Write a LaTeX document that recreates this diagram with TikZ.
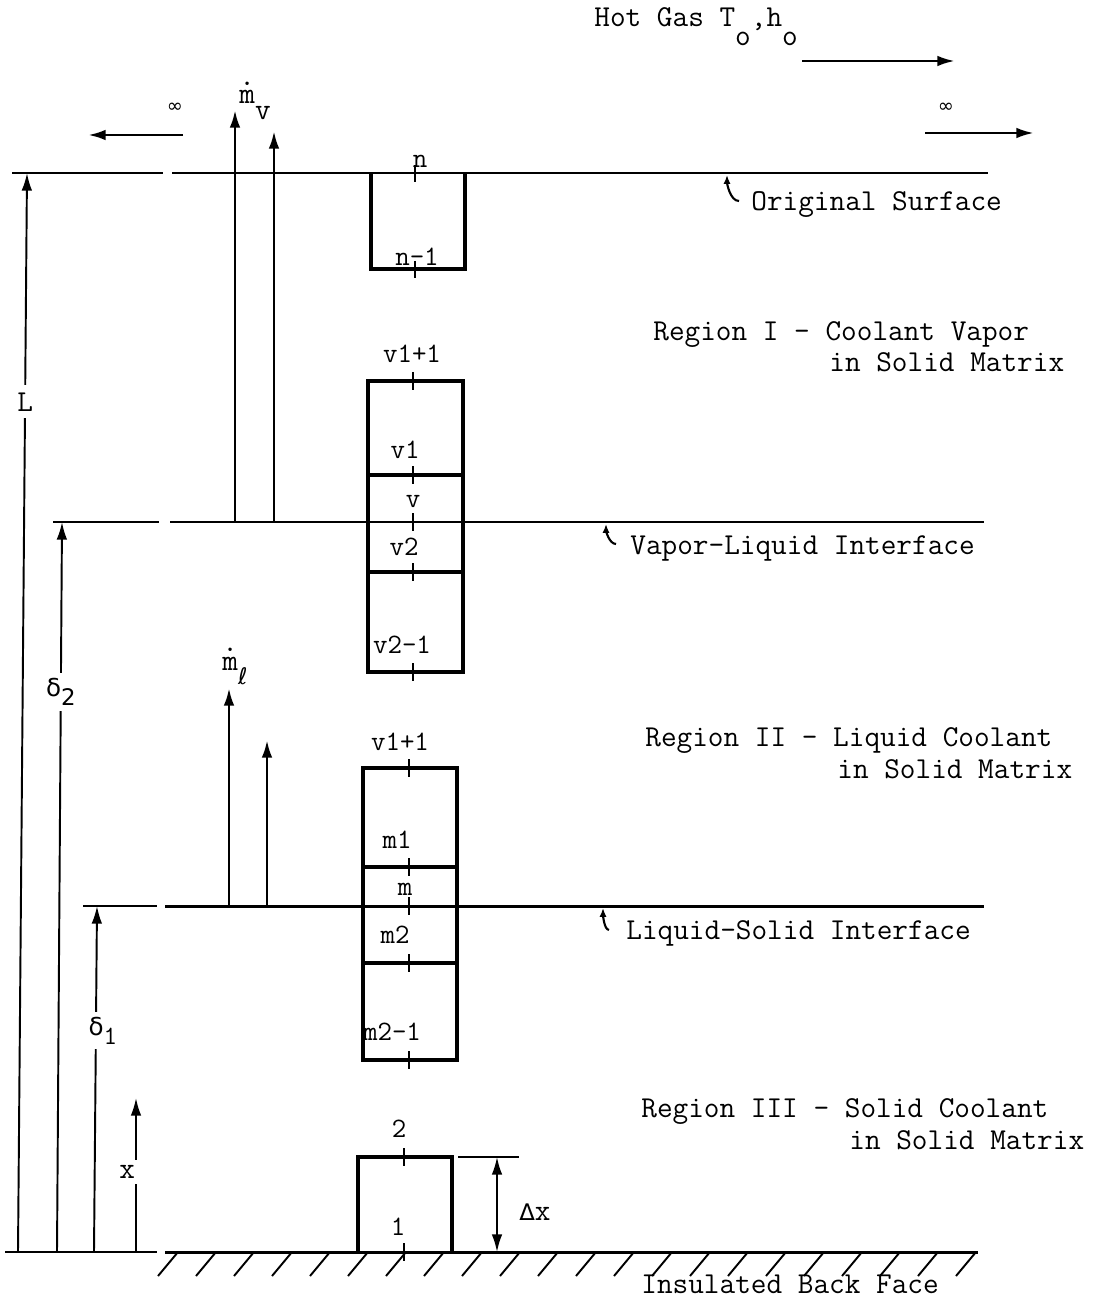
\documentclass[tikz,border=0pt]{standalone}
\usepackage{fontspec}
\newfontfamily\symfont{DejaVu Sans}
\usetikzlibrary{arrows.meta,positioning,calc}
\newcommand{\mdot}{\ooalign{m\cr\hidewidth\raisebox{0.62em}{.}\hidewidth\cr}}

\begin{document}
\begin{tikzpicture}[
    x=0.02cm, y=-0.02cm,
    >={Latex[length=10pt,width=6pt]},
    font=\ttfamily\fontsize{17.3}{18}\selectfont,
    surface/.style={line width=1.7pt},
    extline/.style={line width=1pt},
    dimline/.style={line width=1.1pt},
    flow/.style={->,line width=1.6pt},
    cellbox/.style={line width=2pt},
    celltick/.style={line width=1.1pt},
    hatchline/.style={line width=1.1pt},
    hook/.style={-{Latex[length=5pt,width=4pt]},line width=1.2pt},
    lbl/.style={inner sep=0pt, anchor=base west},
    celllbl/.style={inner sep=0pt, anchor=base, font=\ttfamily\fontsize{16}{16}\selectfont},
    dimlbl/.style={fill=white, inner sep=3pt},
    inflbl/.style={inner sep=0pt, font=\symfont\fontsize{11}{11}\selectfont},
]
\useasboundingbox (0,0) rectangle (1105,1300);

% ============================================================
% HOT GAS and far field
% ============================================================
\node[lbl] (hotgas) at (594,27) {Hot Gas T\raisebox{-10.5pt}{o},h\raisebox{-10.5pt}{o}};
\coordinate (gasA) at (802,61);
\coordinate (gasB) at (955,61);
\draw[flow] (gasA) -- (gasB);

\node[inflbl] (infL) at (175,108) {∞};
\coordinate (infLa) at (183,135);
\coordinate (infLb) at (88,135);
\draw[flow] (infLa) -- (infLb);

\node[inflbl] (infR) at (946,108) {∞};
\coordinate (infRa) at (925,133);
\coordinate (infRb) at (1034,133);
\draw[flow] (infRa) -- (infRb);

% ============================================================
% SURFACES
% ============================================================
\draw[extline] (12,173) -- (163,173);
\draw[surface] (172,173) -- (988,173);
\draw[extline] (53,522) -- (159,522);
\draw[surface] (170,522) -- (984,522);
\draw[extline] (83,906) -- (157,906);
\draw[surface] (165,906) -- (984,906);
\draw[extline] (5,1252) -- (157,1252);
\draw[surface] (165,1252) -- (978,1252);
\foreach \hx in {178,216,...,976}
    \draw[hatchline] (\hx,1252) -- ++(-20,24);

\node[lbl] (origlab) at (751,211) {Original Surface};
\node[lbl] (vllab) at (630,554) {Vapor-Liquid Interface};
\node[lbl] (lslab) at (626,939) {Liquid-Solid Interface};
\node[lbl] (backlab) at (641,1293) {Insulated Back Face};

\coordinate (origHook) at (727,175);
\coordinate (vlHook) at (606,524);
\coordinate (lsHook) at (603,908);
\draw[hook] ($(origlab.west)+(-12,-4)$) .. controls +(-9,0) and +(0,8) .. (origHook);
\draw[hook] ($(vllab.west)+(-14,-4)$) .. controls +(-7,0) and +(0,6) .. (vlHook);
\draw[hook] ($(lslab.west)+(-17,-3)$) .. controls +(-5,0) and +(0,6) .. (lsHook);

% ============================================================
% REGIONS
% ============================================================
\node[lbl] (reg1a) at (653,341) {Region I - Coolant Vapor};
\node[lbl] (reg1b) at (829,372) {in Solid Matrix};
\node[lbl] (reg2a) at (645,746) {Region II - Liquid Coolant};
\node[lbl] (reg2b) at (837,778) {in Solid Matrix};
\node[lbl] (reg3a) at (641,1117) {Region III - Solid Coolant};
\node[lbl] (reg3b) at (849,1149) {in Solid Matrix};

% ============================================================
% DIMENSIONS (left)
% ============================================================
\coordinate (Ltop) at (27,173);
\coordinate (Lbot) at (18,1252);
\draw[dimline,->] (Lbot) -- (Ltop) node[dimlbl, pos=0.788, inner sep=4pt] (Llab) {L};

\coordinate (dtwoTop) at (62,522);
\coordinate (dtwoBot) at (57,1252);
\draw[dimline,->] (dtwoBot) -- (dtwoTop)
    node[dimlbl, pos=0.767] (dtwolab) {{\symfont\fontsize{14}{14}\selectfont δ}\raisebox{-5pt}{\symfont\fontsize{13}{13}\selectfont 2}};

\coordinate (doneTop) at (97,906);
\coordinate (doneBot) at (94,1252);
\draw[dimline,->] (doneBot) -- (doneTop)
    node[dimlbl, pos=0.64, xshift=4pt] (donelab) {{\symfont\fontsize{14}{14}\selectfont δ}\raisebox{-5pt}{\fontsize{15}{15}\selectfont 1}};

\coordinate (xTop) at (136,1098);
\coordinate (xBot) at (136,1252);
\draw[dimline,->] (xBot) -- (xTop)
    node[dimlbl, pos=0.52, xshift=-5pt] (xlab) {x};

% ============================================================
% MASS FLUX ARROWS
% ============================================================
\coordinate (mvA0) at (235,522);
\coordinate (mvA1) at (235,110);
\coordinate (mvB0) at (274,522);
\coordinate (mvB1) at (274,131);
\draw[flow] (mvA0) -- (mvA1);
\draw[flow] (mvB0) -- (mvB1);
\node[lbl] (mvlab) at (239,104) {\mdot\raisebox{-9pt}{v}};

\coordinate (mlA0) at (229,906);
\coordinate (mlA1) at (229,688);
\coordinate (mlB0) at (267,906);
\coordinate (mlB1) at (267,740);
\draw[flow] (mlA0) -- (mlA1);
\draw[flow] (mlB0) -- (mlB1);
\node[lbl] (mllab) at (222,670) {\mdot\raisebox{-8pt}{\symfont\fontsize{13}{13}\selectfont ℓ}};

% ============================================================
% CELLS
% ============================================================
% top cell at original surface
\draw[cellbox] (371,173) -- (371,269) -- (465,269) -- (465,173);
\foreach \ty in {173,269}
    \draw[celltick] (415,\ty) ++(0,-8) -- ++(0,17);
\node[celllbl] (cn) at (420,168) {n};
\node[celllbl] (cnm) at (417,266) {n-1};

% vapor-liquid cells
\draw[cellbox] (368,381) rectangle (463,672);
\draw[cellbox] (368,475) -- (463,475);
\draw[cellbox] (368,572) -- (463,572);
\foreach \ty in {381,475,522,572,672}
    \draw[celltick] (413,\ty) ++(0,-9) -- ++(0,18);
\node[celllbl] (cvp) at (412,362) {v1+1};
\node[celllbl] (cvone) at (405,458) {v1};
\node[celllbl] (cv) at (413,507) {v};
\node[celllbl] (cvtwo) at (404,555) {v2};
\node[celllbl] (cvtwom) at (402,653) {v2-1};

% liquid-solid cells
\draw[cellbox] (363,768) rectangle (457,1060);
\draw[cellbox] (363,867) -- (457,867);
\draw[cellbox] (363,963) -- (457,963);
\foreach \ty in {768,867,906,963,1060}
    \draw[celltick] (409,\ty) ++(0,-9) -- ++(0,18);
\node[celllbl] (cmp) at (400,750) {v1+1};
\node[celllbl] (cmone) at (397,848) {m1};
\node[celllbl] (cm) at (405,895) {m};
\node[celllbl] (cmtwo) at (395,943) {m2};
\node[celllbl] (cmtwom) at (392,1040) {m2-1};

% bottom cell
\draw[cellbox] (358,1252) -- (358,1157) -- (452,1157) -- (452,1252);
\foreach \ty in {1157,1252}
    \draw[celltick] (404,\ty) ++(0,-9) -- ++(0,18);
\node[celllbl] (ctwo) at (399,1137) {2};
\node[celllbl] (cone) at (398,1235) {1};

% cell height
\coordinate (dxTop) at (497,1157);
\coordinate (dxBot) at (497,1252);
\draw[extline] (458,1157) -- (519,1157);
\draw[dimline,<->] (dxTop) -- (dxBot);
\node[lbl, anchor=west] (dxlab) at (519,1212) {{\symfont\fontsize{13}{13}\selectfont Δ}x};

\end{tikzpicture}
\end{document}
